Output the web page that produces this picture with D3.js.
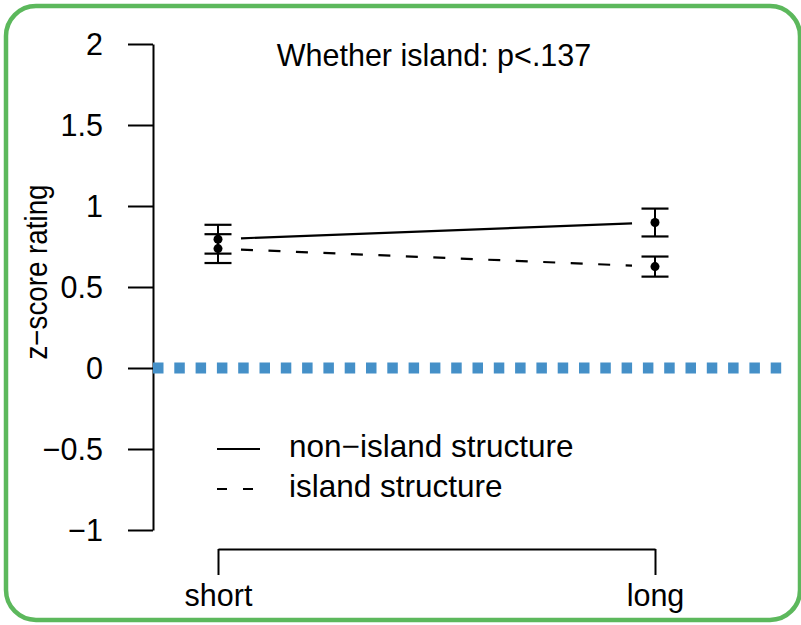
<!DOCTYPE html>
<html>
<head>
<meta charset="utf-8">
<script src="https://cdn.jsdelivr.net/npm/d3@7"></script>
<style>
  html, body { margin: 0; padding: 0; background: #fff; }
  svg { display: block; }
  text { font-family: "Liberation Sans", Arial, Helvetica, sans-serif; fill: #000; }
</style>
</head>
<body>
<svg id="chart" width="801" height="625"></svg>
<script>
// Condition categories and mean z-score ratings with error half-widths
const categories = ["short", "long"];
const nonIslandMean = [0.795, 0.898];
const nonIslandErr = [0.089, 0.086];
const islandMean = [0.737, 0.626];
const islandErr = [0.089, 0.062];
const yTicks = [-1, -0.5, 0, 0.5, 1, 1.5, 2];
const yTickLabels = ["\u22121", "\u22120.5", "0", "0.5", "1", "1.5", "2"];
const seriesNames = ["non\u2212island structure", "island structure"];
const titleText = "Whether island: p<.137";
const yLabel = "z\u2212score rating";
const referenceLevel = [0];

const svg = d3.select("#chart");
const FS = 30.5;

// Rounded green frame
svg.append("rect")
  .attr("x", 6).attr("y", 6)
  .attr("width", 794).attr("height", 614)
  .attr("rx", 30).attr("ry", 30)
  .attr("fill", "none")
  .attr("stroke", "#5cb85c")
  .attr("stroke-width", 4.5);

const x = d3.scalePoint().domain(categories).range([218, 655]);
const y = d3.scaleLinear().domain([-1, 2]).range([530, 44]);

// Y axis: vertical line with ticks pointing left
const yAxis = d3.axisLeft(y)
  .tickValues(yTicks)
  .tickSize(25)
  .tickSizeOuter(0)
  .tickFormat((d, i) => yTickLabels[i]);
const gy = svg.append("g").attr("transform", "translate(153,0)").call(yAxis);
gy.select(".domain").attr("stroke", "#000").attr("stroke-width", 2);
gy.selectAll(".tick line").attr("stroke", "#000").attr("stroke-width", 2);
gy.selectAll(".tick text")
  .attr("x", -50)
  .attr("dy", "0.36em")
  .style("font-size", FS + "px")
  .style("font-family", "'Liberation Sans', Arial, sans-serif")
  .attr("fill", "#000");

// X axis: bracket with ticks pointing down
const xAxis = d3.axisBottom(x).tickSize(26).tickSizeOuter(0);
const gx = svg.append("g").attr("transform", "translate(0,549)").call(xAxis);
gx.select(".domain").attr("stroke", "#000").attr("stroke-width", 2);
gx.selectAll(".tick line").attr("stroke", "#000").attr("stroke-width", 2);
gx.selectAll(".tick text")
  .attr("y", 57)
  .attr("dy", 0)
  .style("font-size", FS + "px")
  .style("font-family", "'Liberation Sans', Arial, sans-serif")
  .attr("fill", "#000");

// Dotted zero reference line
svg.selectAll("line.ref").data(referenceLevel).enter().append("line")
  .attr("class", "ref")
  .attr("x1", 153).attr("x2", 786)
  .attr("y1", d => y(d)).attr("y2", d => y(d))
  .attr("stroke", "#4590c8")
  .attr("stroke-width", 11)
  .attr("stroke-dasharray", "10.5,10.8");

// Connecting lines, trimmed back from the points
function trimmed(means, gap) {
  const x1 = x(categories[0]), y1 = y(means[0]);
  const x2 = x(categories[1]), y2 = y(means[1]);
  const len = Math.hypot(x2 - x1, y2 - y1);
  const ux = (x2 - x1) / len, uy = (y2 - y1) / len;
  return [x1 + ux * gap, y1 + uy * gap, x2 - ux * gap, y2 - uy * gap];
}
const series = [
  { mean: nonIslandMean, err: nonIslandErr, dash: null },
  { mean: islandMean, err: islandErr, dash: "12,15.5" }
];
series.forEach(s => {
  const [a, b, c, d] = trimmed(s.mean, 23);
  svg.append("line")
    .attr("x1", a).attr("y1", b).attr("x2", c).attr("y2", d)
    .attr("stroke", "#000").attr("stroke-width", 2.2)
    .attr("stroke-dasharray", s.dash);

  const g = svg.append("g");
  categories.forEach((cat, i) => {
    const cx = x(cat);
    const top = y(s.mean[i] + s.err[i]);
    const bot = y(s.mean[i] - s.err[i]);
    g.append("line").attr("x1", cx).attr("x2", cx).attr("y1", top).attr("y2", bot)
      .attr("stroke", "#000").attr("stroke-width", 2);
    [top, bot].forEach(yy => {
      g.append("line").attr("x1", cx - 13.5).attr("x2", cx + 13.5)
        .attr("y1", yy).attr("y2", yy)
        .attr("stroke", "#000").attr("stroke-width", 2.2);
    });
    g.append("circle").attr("cx", cx).attr("cy", y(s.mean[i])).attr("r", 4.5).attr("fill", "#000");
  });
});

// Title
svg.append("text")
  .attr("x", 434).attr("y", 66)
  .attr("text-anchor", "middle")
  .style("font-size", FS + "px")
  .text(titleText);

// Y axis label (slightly condensed along its length)
svg.append("text")
  .attr("transform", "translate(47,272) rotate(-90) scale(0.91,1)")
  .attr("text-anchor", "middle")
  .style("font-size", FS + "px")
  .text(yLabel);

// Legend
const legend = svg.append("g");
const legendY = [449, 489];
seriesNames.forEach((name, i) => {
  legend.append("line")
    .attr("x1", 217).attr("x2", 260)
    .attr("y1", legendY[i]).attr("y2", legendY[i])
    .attr("stroke", "#000").attr("stroke-width", 2.2)
    .attr("stroke-dasharray", series[i].dash ? "10,16" : null);
  legend.append("text")
    .attr("x", 289).attr("y", legendY[i] + 8)
    .style("font-size", "31.5px")
    .text(name);
});
</script>
</body>
</html>
